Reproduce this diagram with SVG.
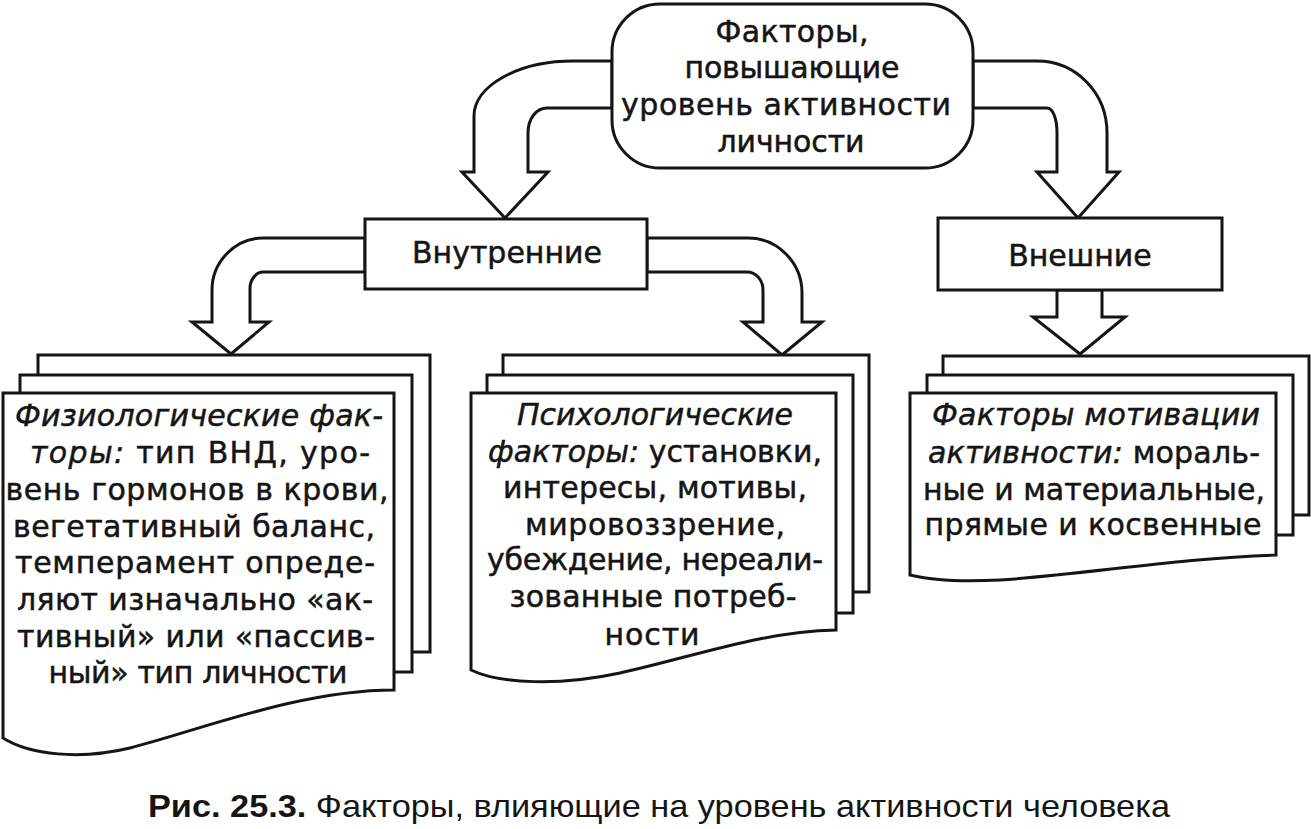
<svg xmlns="http://www.w3.org/2000/svg" width="1311" height="829" viewBox="0 0 1311 829">
<style>
  .ln{fill:#fff;stroke:#151515;stroke-width:3;stroke-linejoin:miter}
  .t{font-family:"DejaVu Sans","Liberation Sans",sans-serif;font-size:30px;fill:#151515;stroke:#151515;stroke-width:0.5;text-anchor:middle}
  .i{font-style:italic}
  .cap{font-family:"Liberation Sans Narrow","Liberation Sans",sans-serif;font-size:32px;fill:#151515}
</style>
<rect width="1311" height="829" fill="#fff"/>

<g id="connectors">
  <path class="ln" d="M612,61 L573,61 C518,61 474,86 474,116 L474,172 L462,172 L505,218 L548,172 L528,172 L528,133 C528,119 536,108 547,108 L612,108 Z"/>
  <path class="ln" d="M973,61 L1037,61 C1076,61 1107,93 1107,133 L1107,172 L1119,172 L1078,218 L1037,172 L1057,172 L1057,133 C1057,119 1053,108 1047,108 L973,108 Z"/>
  <path class="ln" d="M365,238 L263,238 C235,238 212,262 212,290 L212,322 L192,322 L231,354 L269,322 L250,322 L250,288 C250,280 256,272 263,272 L365,272 Z"/>
  <path class="ln" d="M647,238 L748,238 C778,238 802,263 802,293 L802,322 L822,322 L782,355 L743,322 L763,322 L763,290 C763,280 756,272 747,272 L647,272 Z"/>
  <path class="ln" d="M1057,290 L1057,317 L1033,317 L1080,354 L1125,317 L1102,317 L1102,290 Z"/>
</g>

<g id="node-top">
  <rect class="ln" x="612" y="4" width="361" height="164" rx="48" ry="48"/>
  <text class="t" x="792" y="42" textLength="153">Факторы,</text>
  <text class="t" x="792" y="78" textLength="215">повышающие</text>
  <text class="t" x="786" y="115" textLength="330">уровень активности</text>
  <text class="t" x="791" y="152" textLength="147">личности</text>
</g>

<g id="node-internal">
  <rect class="ln" x="365" y="219" width="282" height="70"/>
  <text class="t" x="507" y="263">Внутренние</text>
</g>

<g id="node-external">
  <rect class="ln" x="938" y="218" width="284" height="72"/>
  <text class="t" x="1080" y="266">Внешние</text>
</g>

<g id="node-physio">
  <rect class="ln" x="38" y="355" width="392" height="297"/>
  <rect class="ln" x="20" y="375" width="392" height="297"/>
  <path class="ln" d="M3,393 L394,393 L394,690 C300,690 200,730 130,748 C80,760 30,755 3,738 Z"/>
  <text class="t" x="199" y="426" textLength="368"><tspan class="i">Физиологические фак-</tspan></text>
  <text class="t" x="200" y="463" textLength="340"><tspan class="i">торы:</tspan> тип ВНД, уро-</text>
  <text class="t" x="197" y="500" textLength="383">вень гормонов в крови,</text>
  <text class="t" x="194" y="537" textLength="362">вегетативный баланс,</text>
  <text class="t" x="195" y="573" textLength="360">темперамент опреде-</text>
  <text class="t" x="195" y="610" textLength="356">ляют изначально «ак-</text>
  <text class="t" x="196" y="647" textLength="358">тивный» или «пассив-</text>
  <text class="t" x="198" y="683" textLength="299">ный» тип личности</text>
</g>

<g id="node-psych">
  <rect class="ln" x="503" y="355" width="366" height="237"/>
  <rect class="ln" x="487" y="375" width="366" height="238"/>
  <path class="ln" d="M471,393 L836,393 L836,630 C760,632 700,655 620,673 C560,686 500,684 471,670 Z"/>
  <text class="t" x="655" y="425" textLength="276"><tspan class="i">Психологические</tspan></text>
  <text class="t" x="655" y="462" textLength="334"><tspan class="i">факторы:</tspan> установки,</text>
  <text class="t" x="655" y="498" textLength="304">интересы, мотивы,</text>
  <text class="t" x="655" y="535" textLength="260">мировоззрение,</text>
  <text class="t" x="655" y="570" textLength="336">убеждение, нереали-</text>
  <text class="t" x="653" y="607" textLength="287">зованные потреб-</text>
  <text class="t" x="652" y="645" textLength="95">ности</text>
</g>

<g id="node-motiv">
  <rect class="ln" x="943" y="356" width="366" height="159"/>
  <rect class="ln" x="927" y="375" width="366" height="160"/>
  <path class="ln" d="M910,393 L1276,393 L1276,555 C1180,558 1080,575 1000,580 C960,582 930,580 910,575 Z"/>
  <text class="t" x="1096" y="425" textLength="328"><tspan class="i">Факторы мотивации</tspan></text>
  <text class="t" x="1094" y="463" textLength="332"><tspan class="i">активности:</tspan> мораль-</text>
  <text class="t" x="1094" y="500" textLength="342">ные и материальные,</text>
  <text class="t" x="1093" y="535" textLength="337">прямые и косвенные</text>
</g>

<g id="caption">
  <text class="cap" x="148" y="817" textLength="1022" lengthAdjust="spacingAndGlyphs"><tspan font-weight="bold">Рис. 25.3.</tspan> Факторы, влияющие на уровень активности человека</text>
</g>
</svg>
